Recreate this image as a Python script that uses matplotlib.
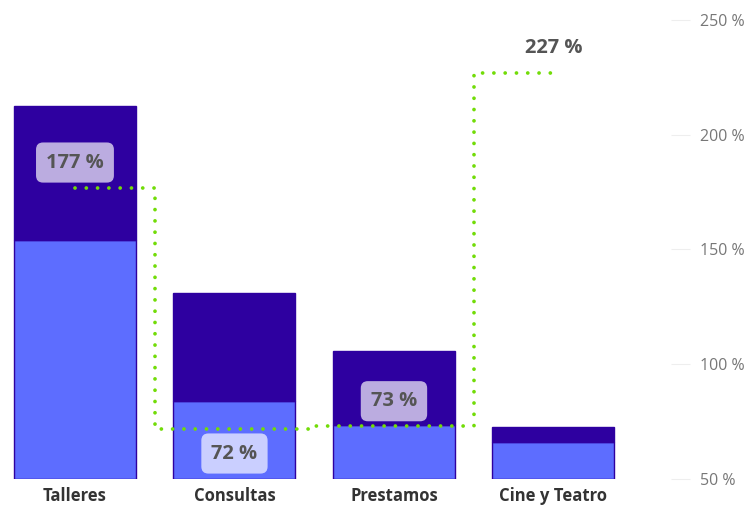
import matplotlib.pyplot as plt
import numpy as np

# data
categories = ['Talleres', 'Consultas', 'Prestamos', 'Cine y Teatro']
base_vals = [104, 34, 23.5, 16]      # light blue part of each bar
top_vals = [58.5, 47, 32.3, 6.7]     # dark purple part stacked on top
pct_vals = [177, 72, 73, 227]        # green step line, right axis (%)

light_blue = '#5d6dff'
dark_purple = '#2e00a0'
green = '#72dc08'

plt.rcParams['font.family'] = ['Open Sans', 'DejaVu Sans']

fig = plt.figure(figsize=(7.49, 5.07), dpi=100)
ax = fig.add_axes([0.0, 28 / 507, 690 / 749, 459 / 507])
x = np.arange(len(categories))

ax.bar(x, base_vals, width=0.765, color=light_blue, edgecolor=dark_purple, linewidth=1)
ax.bar(x, top_vals, width=0.765, bottom=base_vals, color=dark_purple,
       edgecolor=dark_purple, linewidth=1)
ax.set_ylim(0, 200)
ax.set_xlim(-0.47, 3.856)
ax.set_yticks([])
ax.set_xticks(x)
ax.set_xticklabels(categories, fontsize=12, fontweight='bold', color='#333333')
ax.tick_params(axis='x', length=0, pad=6)
for s in ax.spines.values():
    s.set_visible(False)

# percentage line on the right axis
ax2 = ax.twinx()
ax2.plot(x, pct_vals, drawstyle='steps-mid', color=green, lw=2.7,
         linestyle=(0, (0.01, 3.0)), dash_capstyle='round')
ax2.set_ylim(50, 250)
ax2.set_yticks([50, 100, 150, 200, 250])
ax2.set_yticklabels([f'{v} %' for v in [50, 100, 150, 200, 250]])
ax2.tick_params(axis='y', length=14, direction='in', color='#eeeeee',
                labelsize=11.5, labelcolor='#777777', pad=7)
for s in ax2.spines.values():
    s.set_visible(False)

# value labels, alternating above / below the line
offsets = [18, -18, 18, 18]
for i, (v, off) in enumerate(zip(pct_vals, offsets)):
    box = dict(boxstyle='round,pad=0.5,rounding_size=0.35', fc='white',
               ec='none', alpha=0.68) if i < 3 else None
    ax2.annotate(f'{v} %', (i, v), xytext=(0, off), textcoords='offset points',
                 ha='center', va='center', fontsize=14.5, fontweight='bold',
                 color='#555555', bbox=box)

fig.savefig('out.png', dpi=100)
